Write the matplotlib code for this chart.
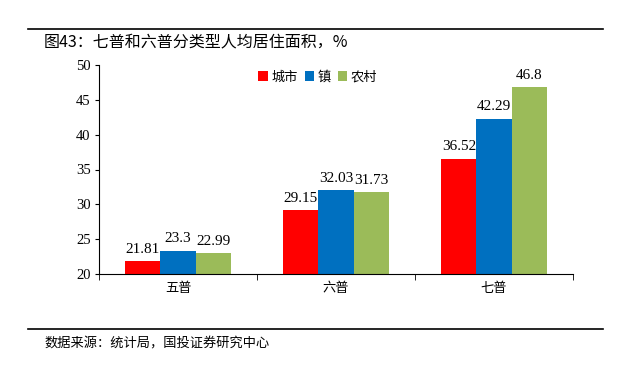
import matplotlib
matplotlib.use("Agg")
import matplotlib.pyplot as plt
import numpy as np

plt.rcParams['font.family'] = ['Liberation Serif', 'Noto Sans CJK SC']

categories = ["五普", "六普", "七普"]
series_names = ["城市", "镇", "农村"]
city = [21.81, 29.15, 36.52]
town = [23.3, 32.03, 42.29]
rural = [22.99, 31.73, 46.8]
colors = ["#FF0000", "#0070C0", "#9BBB59"]

fig = plt.figure(figsize=(6.37, 3.66), dpi=100)
ax = fig.add_axes([99/637, 1 - 274/366, (573-99)/637, (274-65)/366])

x = np.arange(len(categories))
w = 0.222
for i, (vals, name) in enumerate(zip([city, town, rural], series_names)):
    pos = x + (i - 1) * w
    ax.bar(pos, np.array(vals) - 20, width=w, bottom=20, color=colors[i], label=name)
    for p, v in zip(pos, vals):
        ax.text(p, v + 0.8, f"{v:g}", ha="center", va="bottom", fontsize=11)

ax.set_xlim(-0.5, 2.5)
ax.set_ylim(20, 50)
ax.set_yticks(range(20, 51, 5))
ax.set_xticks([-0.5, 0.5, 1.5, 2.5], minor=True)
ax.set_xticks(x)
ax.set_xticklabels(categories, family=['Noto Sans CJK SC'], fontsize=9.5)
ax.tick_params(axis='x', which='major', length=0, pad=6)
ax.tick_params(axis='x', which='minor', length=4, direction='out')
ax.tick_params(axis='y', length=3, direction='out', labelsize=10.5, pad=3)
for s in ['top', 'right']:
    ax.spines[s].set_visible(False)
ax.spines['left'].set_linewidth(0.8)
ax.spines['bottom'].set_linewidth(0.8)

leg = ax.legend(loc='upper center', bbox_to_anchor=(0.462, 1.03), ncol=3, frameon=False,
                handlelength=0.7, handleheight=0.7, handletextpad=0.3, columnspacing=0.5,
                prop={'family': 'Noto Sans CJK SC', 'size': 9.5})

fig.add_artist(plt.Line2D([28/637, 603/637], [1 - 29/366, 1 - 29/366], color='black', lw=1.2))
fig.add_artist(plt.Line2D([28/637, 603/637], [1 - 329/366, 1 - 329/366], color='black', lw=1.2))
fig.text(44/637, 1 - 42/366, "图43：七普和六普分类型人均居住面积，%", fontsize=11.5,
         family=['Noto Sans CJK SC'], va='center', ha='left')
fig.text(44/637, 1 - 344/366, "数据来源：统计局，国投证券研究中心", fontsize=9.5,
         family=['Noto Sans CJK SC'], va='center', ha='left')

fig.savefig("out.png", dpi=100)
